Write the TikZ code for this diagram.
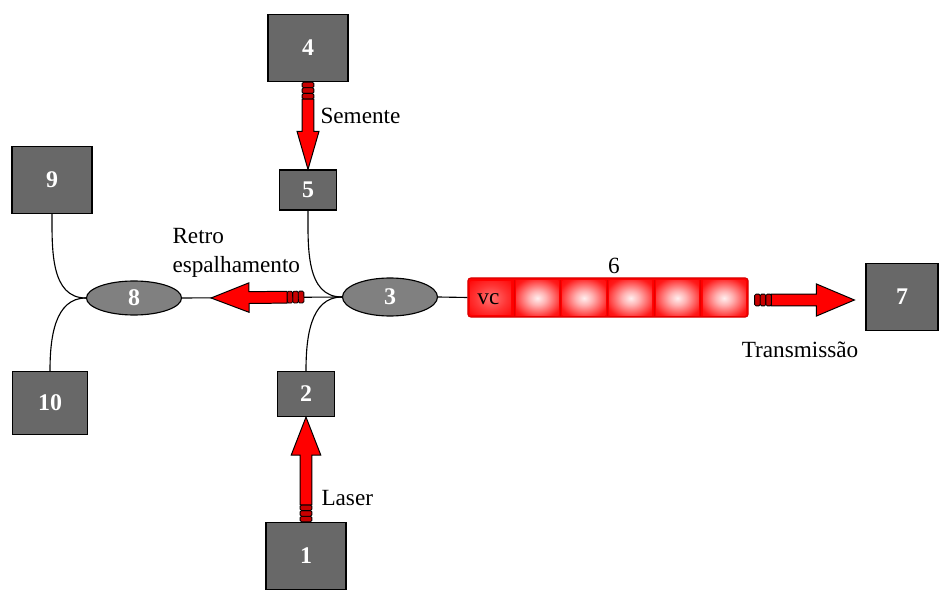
\documentclass[tikz,border=0pt]{standalone}
\usepackage{fontspec}
\setmainfont{Liberation Serif}
\usepackage{xcolor}
\usetikzlibrary{shapes.geometric, calc, positioning}

\definecolor{boxgray}{RGB}{104,104,104}
\definecolor{ovalgray}{RGB}{128,128,128}
\definecolor{ringred}{RGB}{200,0,0}

\pgfdeclareradialshading{glow}{\pgfpoint{0bp}{0bp}}{%
  color(0bp)=(red!6!white); color(10bp)=(red!30!white);
  color(30bp)=(red!90!white); color(42bp)=(red); color(50bp)=(red)}
\pgfdeclareradialshading{softglow}{\pgfpoint{0bp}{0bp}}{%
  color(0bp)=(red!55!white); color(20bp)=(red!80!white);
  color(40bp)=(red); color(50bp)=(red)}

% fat red arrow: [head half width]{start}{tip}
\newcommand{\fatarrow}[3][10.5pt]{%
  \foreach \a/\b in {0pt/4pt, 4pt/8pt, 8pt/12pt}{
    \coordinate (fa-a) at ($(#2)!\a!(#3)$);
    \coordinate (fa-b) at ($(#2)!\b!(#3)$);
    \filldraw[fill=ringred, draw=black, line width=0.6pt, rounded corners=1pt]
      ($(fa-a)!4.2pt!90:(#3)$) -- ($(fa-b)!4.2pt!90:(#3)$) --
      ($(fa-b)!4.2pt!-90:(#3)$) -- ($(fa-a)!4.2pt!-90:(#3)$) -- cycle;
  }
  \coordinate (fa-r) at ($(#2)!12pt!(#3)$);
  \coordinate (fa-h) at ($(#3)!27pt!(#2)$);
  \filldraw[fill=red, draw=black, line width=0.7pt]
    ($(fa-r)!4.2pt!90:(#3)$) -- ($(fa-h)!4.2pt!90:(#3)$) -- ($(fa-h)!#1!90:(#3)$) --
    (#3) -- ($(fa-h)!#1!-90:(#3)$) -- ($(fa-h)!4.2pt!-90:(#3)$) --
    ($(fa-r)!4.2pt!-90:(#3)$) -- cycle;
}

\begin{document}
\begin{tikzpicture}[
        x=0.025cm, y=0.025cm,
        font=\fontsize{16.5}{21}\selectfont,
        bigbox/.style={rectangle, draw=black, line width=0.8pt, fill=boxgray,
          minimum width=2.0cm, minimum height=1.68cm, inner sep=0pt,
          text=white, font=\fontsize{17}{20}\selectfont\bfseries},
        smallbox/.style={bigbox, minimum width=1.43cm, minimum height=1.05cm},
        oval/.style={ellipse, draw=black, line width=0.8pt, fill=ovalgray,
          minimum width=2.375cm, minimum height=0.95cm, inner sep=0pt,
          text=white, font=\fontsize{17}{20}\selectfont\bfseries},
        fibre/.style={rectangle, draw=red!85!black, line width=0.8pt, fill=red,
          rounded corners=2pt, minimum width=7cm, minimum height=0.975cm, inner sep=0pt},
        line/.style={draw=black, line width=0.8pt},
        lbl/.style={text=black, inner sep=3pt}
    ]
    \useasboundingbox (0,0) rectangle (940,-616);

    \node (box4) [bigbox] at (308,-48) {4};
    \node (box5) [smallbox, minimum height=1.0cm] at (308,-190) {5};
    \node (box3) [oval] at (390,-297) {3};
    \node (box2) [smallbox, minimum height=1.125cm] at (306,-394) {2};
    \node (box1) [bigbox] at (306,-556) {1};
    \node (box8) [oval, minimum height=0.85cm] at (134,-298) {8};
    \node (box9) [bigbox] at (52,-180) {9};
    \node (box10) [bigbox, minimum width=1.875cm, minimum height=1.575cm] at (50,-403) {10};
    \node (box7) [bigbox, minimum width=1.8cm] at (902,-297) {7};
    \node (box6) [fibre] at (608,-297.5) {};

    % cells of the fibre
    \shade[shading=softglow]
      ($(box6.south west)+(3,3)$) rectangle ++(40.67,33);
    \foreach \i in {1,...,5}
      \shade[shading=glow]
        ($(box6.south west)+(\i*46.67+2,2)$) rectangle ++(42.67,35);
    \foreach \i in {1,...,5}
      \draw[red!90!black, line width=0.5pt]
        ($(box6.south west)+(\i*46.67,1)$) -- ++(0,37);

    \node (vc) [lbl] at ($(box6.west)+(21,-2)$) {vc};
    \node (lab6) [lbl] at (614,-266) {6};
    \node (semente) [lbl, anchor=west] at (316,-116) {Semente};
    \node (retro) [lbl, anchor=west, align=left] at (168,-253) {Retro\\espalhamento};
    \node (laser) [lbl, anchor=west] at (317,-498) {Laser};
    \node (transm) [lbl] at (800,-350) {Transmissão};

    % fibres
    \draw[line] (box8.east) -- (box3.west);
    \draw[line] (box3.east) -- (box6.west);
    \draw[line] (box5.south) to[out=-90, in=180] (box3.west);
    \draw[line] (box2.north) to[out=90, in=180] (box3.west);
    \draw[line] (box9.south) to[out=-90, in=180] (box8.west);
    \draw[line] (box10.north) to[out=90, in=180] (box8.west);

    % light paths
    \coordinate (retro-a) at ($(box3.west)+(-38,0)$);
    \coordinate (retro-b) at ($(box8.east)+(29,0)$);
    \coordinate (trans-a) at ($(box6.east)+(6,-2.5)$);
    \coordinate (trans-b) at ($(box7.west)+(-11,-3)$);
    \fatarrow[7.8pt]{box4.south}{box5.north}
    \fatarrow{box1.north}{box2.south}
    \fatarrow{retro-a}{retro-b}
    \fatarrow[11.4pt]{trans-a}{trans-b}

\end{tikzpicture}
\end{document}
